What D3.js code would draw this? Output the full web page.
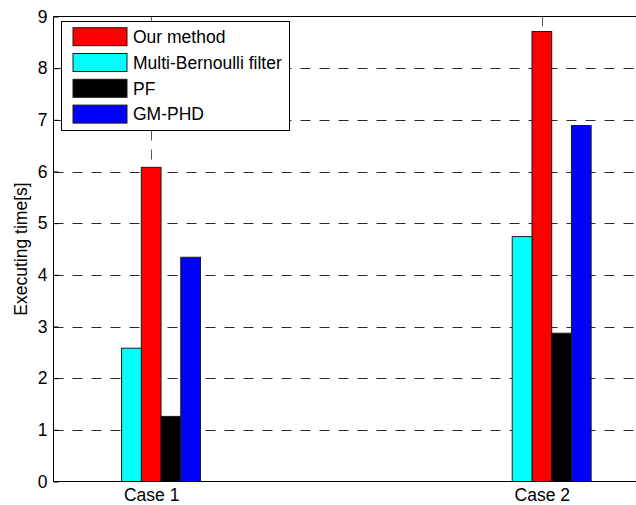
<!DOCTYPE html>
<html>
<head>
<meta charset="utf-8">
<script src="https://cdn.jsdelivr.net/npm/d3@7"></script>
<style>
  html, body { margin: 0; padding: 0; background: #fff; }
  svg { display: block; font-family: "Liberation Sans", Arial, Helvetica, sans-serif; }
</style>
</head>
<body>
<svg id="chart" width="636" height="505"></svg>
<script>
// Execution time of four tracking filters in two test cases
const categories = ["Case 1", "Case 2"];
const seriesNames = ["Our method", "Multi-Bernoulli filter", "PF", "GM-PHD"];
const ourMethod = [6.08, 8.71];
const multiBernoulli = [2.58, 4.74];
const pf = [1.26, 2.87];
const gmPhd = [4.34, 6.89];
const yTicks = [0, 1, 2, 3, 4, 5, 6, 7, 8, 9];
const seriesColors = ["#ff0000", "#00ffff", "#000000", "#0000ff"];

(function () {
  const seriesValues = [ourMethod, multiBernoulli, pf, gmPhd];
  const series = seriesNames.map((name, i) => ({ name, color: seriesColors[i], values: seriesValues[i] }));

  const svg = d3.select("#chart");
  svg.append("rect").attr("width", 636).attr("height", 505).attr("fill", "#fff");

  const plotLeft = 53.5, plotRight = 639.5, plotTop = 16.5, plotBottom = 481.5;
  const font = 17.5;

  // categories sit at x = 1 and 2 on a numeric axis
  const x = d3.scaleLinear().domain([0.75, 2.25]).range([plotLeft, plotRight]);
  const y = d3.scaleLinear().domain([0, 9]).range([plotBottom, plotTop]);

  // five slots per group; the first slot stays empty so that the
  // second slot's series sits on the category tick
  const slotOrder = ["", "Multi-Bernoulli filter", "Our method", "PF", "GM-PHD"];
  const unit = x(2) - x(1);
  const groupPx = 0.2525 * unit;
  const inner = d3.scaleBand().domain(slotOrder).range([-groupPx / 2, groupPx / 2]);

  const dash = "10,9";

  // horizontal dashed grid
  svg.append("g").selectAll("line").data(yTicks.filter(t => t > 0 && t < 9)).join("line")
    .attr("x1", plotLeft).attr("x2", plotRight)
    .attr("y1", d => Math.round(y(d)) + 0.5).attr("y2", d => Math.round(y(d)) + 0.5)
    .attr("stroke", "#2a2a2a").attr("stroke-width", 1).attr("stroke-dasharray", dash);

  // vertical dashed grid at the categories
  svg.append("g").selectAll("line").data([1, 2]).join("line")
    .attr("x1", d => Math.round(x(d)) + 0.5).attr("x2", d => Math.round(x(d)) + 0.5)
    .attr("y1", plotTop).attr("y2", plotBottom)
    .attr("stroke", "#555").attr("stroke-width", 1).attr("stroke-dasharray", dash);

  // bars
  const barData = [];
  series.forEach(s => s.values.forEach((v, ci) => barData.push({ name: s.name, color: s.color, v, c: ci + 1 })));
  svg.append("g").selectAll("rect").data(barData).join("rect")
    .attr("x", d => x(d.c) + inner(d.name))
    .attr("width", inner.bandwidth())
    .attr("y", d => y(d.v))
    .attr("height", d => y(0) - y(d.v))
    .attr("fill", d => d.color)
    .attr("stroke", "#1a1a1a").attr("stroke-width", 1);

  // axes box
  const axisG = svg.append("g").attr("stroke", "#000");
  axisG.append("line").attr("x1", plotLeft).attr("x2", plotRight).attr("y1", plotBottom).attr("y2", plotBottom);
  axisG.append("line").attr("x1", plotLeft).attr("x2", plotRight).attr("y1", plotTop).attr("y2", plotTop);
  axisG.append("line").attr("x1", plotLeft).attr("x2", plotLeft).attr("y1", plotTop).attr("y2", plotBottom);

  // y axis ticks and labels
  const yAxis = d3.axisLeft(y).tickValues(yTicks).tickSizeInner(-5).tickSizeOuter(0)
    .tickPadding(6).tickFormat(d3.format("d"));
  const yg = svg.append("g").attr("transform", `translate(${plotLeft},0)`).call(yAxis);
  yg.select(".domain").remove();
  yg.selectAll(".tick line").attr("stroke", "#000");
  yg.selectAll(".tick text").attr("font-size", font).attr("fill", "#000")
    .attr("font-family", "'Liberation Sans', Arial, sans-serif");

  // x axis labels
  const xAxis = d3.axisBottom(x).tickValues([1, 2]).tickSize(0).tickPadding(7)
    .tickFormat(d => categories[d - 1]);
  const xg = svg.append("g").attr("transform", `translate(0,${plotBottom})`).call(xAxis);
  xg.select(".domain").remove();
  xg.selectAll(".tick text").attr("font-size", font).attr("fill", "#000")
    .attr("font-family", "'Liberation Sans', Arial, sans-serif");

  // y axis title
  svg.append("text")
    .attr("transform", `translate(27,${(plotTop + plotBottom) / 2}) rotate(-90)`)
    .attr("text-anchor", "middle")
    .attr("font-size", font)
    .text("Executing time[s]");

  // legend
  const lg = svg.append("g");
  lg.append("rect").attr("x", 61.5).attr("y", 21.5).attr("width", 228).attr("height", 109)
    .attr("fill", "#fff").attr("stroke", "#000").attr("stroke-width", 1);
  const rows = lg.selectAll("g.row").data(series).join("g").attr("class", "row")
    .attr("transform", (d, i) => `translate(0,${36.7 + i * 25.8})`);
  rows.append("rect").attr("x", 73).attr("y", -9).attr("width", 54).attr("height", 18)
    .attr("fill", d => d.color).attr("stroke", "#1a1a1a").attr("stroke-width", 1);
  rows.append("text").attr("x", 133).attr("y", 6.3).attr("font-size", font).attr("fill", "#000")
    .text(d => d.name);
})();
</script>
</body>
</html>
